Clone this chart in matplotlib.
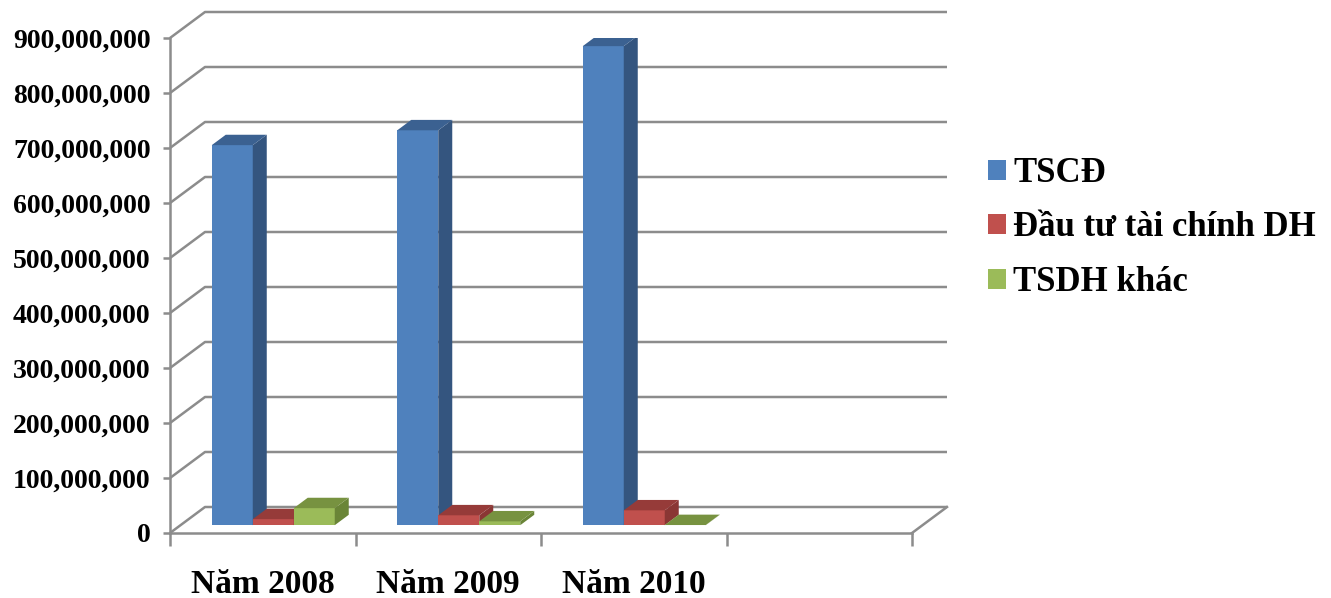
import matplotlib
matplotlib.use("Agg")
import matplotlib.pyplot as plt
from matplotlib.patches import Polygon, Patch
from matplotlib.ticker import FuncFormatter

years = ["Năm 2008", "Năm 2009", "Năm 2010"]
series = ["TSCĐ", "Đầu tư tài chính DH", "TSDH khác"]
tscd = [691e6, 718e6, 871e6]
dau_tu = [11e6, 18e6, 27e6]
tsdh_khac = [31e6, 7e6, 0.3e6]

plt.rcParams['font.family'] = ['Liberation Serif', 'DejaVu Serif']
plt.rcParams['font.weight'] = 'bold'

# front, top, side colours for each series
colors = [
    ("#4F81BD", "#3B6191", "#34557F"),
    ("#C0504D", "#963B39", "#8A3634"),
    ("#9BBB59", "#779240", "#6A8537"),
]
grid_c = "#8C8C8C"

fig = plt.figure(figsize=(13.31, 5.98), dpi=100)
ax = fig.add_axes([170 / 1331, 65 / 598, 742 / 1331, 495 / 598])
n_slots = 4
ymax = 900e6
ax.set_xlim(0, n_slots)
ax.set_ylim(0, ymax)

# depth offset of the back wall, in data units
DX = 35 / 742 * n_slots
DY = 26 / 495 * ymax

# back wall gridlines with their diagonals
for v in range(0, 1000000000, 100000000):
    ax.plot([0, DX, n_slots + DX], [v, v + DY, v + DY], color=grid_c, lw=1.8,
            clip_on=False, zorder=1, solid_capstyle='butt')
ax.plot([n_slots, n_slots + DX], [0, DY], color=grid_c, lw=1.8, clip_on=False, zorder=1)

# 3D bars
bw = 0.221
d0, d1 = 0.3, 0.7
group_left = (1 - 3 * bw) / 2
all_vals = [tscd, dau_tu, tsdh_khac]
for i in range(len(years)):
    for s, vals in enumerate(all_vals):
        v = vals[i]
        x0 = i + group_left + s * bw + d0 * DX
        y0 = d0 * DY
        x1 = x0 + bw
        ddx = (d1 - d0) * DX
        ddy = (d1 - d0) * DY
        front, top, side = colors[s]
        ax.add_patch(Polygon([(x0, y0), (x1, y0), (x1, y0 + v), (x0, y0 + v)],
                             closed=True, facecolor=front, edgecolor='none', zorder=3))
        ax.add_patch(Polygon([(x1, y0), (x1 + ddx, y0 + ddy), (x1 + ddx, y0 + ddy + v), (x1, y0 + v)],
                             closed=True, facecolor=side, edgecolor='none', zorder=3))
        ax.add_patch(Polygon([(x0, y0 + v), (x1, y0 + v), (x1 + ddx, y0 + ddy + v), (x0 + ddx, y0 + ddy + v)],
                             closed=True, facecolor=top, edgecolor='none', zorder=3))

# axes styling
for sp in ['top', 'right']:
    ax.spines[sp].set_visible(False)
for sp in ['left', 'bottom']:
    ax.spines[sp].set_color(grid_c)
    ax.spines[sp].set_linewidth(1.8)
ax.set_facecolor('none')

ax.set_yticks(range(0, 1000000000, 100000000))
ax.yaxis.set_major_formatter(FuncFormatter(lambda v, p: f"{v:,.0f}"))
ax.tick_params(axis='y', length=5, width=1.8, color=grid_c, pad=9, labelsize=20)

ax.set_xticks(range(n_slots + 1))
ax.set_xticklabels([])
ax.tick_params(axis='x', which='major', length=9, width=1.8, color=grid_c)
ax.set_xticks([i + 0.5 for i in range(len(years))], minor=True)
ax.set_xticklabels(years, minor=True)
ax.tick_params(axis='x', which='minor', length=0, pad=26, labelsize=24)
for lab in ax.get_xticklabels(minor=True) + ax.get_yticklabels():
    lab.set_fontweight('bold')

handles = [Patch(facecolor=c[0], edgecolor='none') for c in colors]
fig.legend(handles, series, loc='center left', bbox_to_anchor=(988 / 1331, 1 - 228 / 598),
           frameon=False, handlelength=0.52, handleheight=0.52,
           handletextpad=0.2, labelspacing=0.62, borderpad=0, borderaxespad=0,
           prop={'weight': 'bold', 'size': 25})

fig.savefig("out.png", dpi=100)
